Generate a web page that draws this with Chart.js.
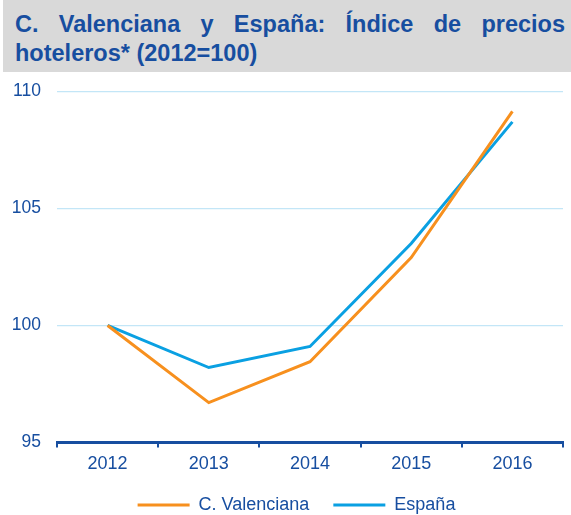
<!DOCTYPE html>
<html>
<head>
<meta charset="utf-8">
<script src="https://cdn.jsdelivr.net/npm/chart.js@4"></script>
<style>
  body { margin: 0; background: #fff; width: 571px; height: 515px; overflow: hidden; position: relative; }
  #title {
    position: absolute; left: 3px; top: 0; width: 568px; height: 72px; z-index: 2;
    background: #d9d9d9; box-sizing: border-box; padding: 10px 6px 0 12px;
    font-family: "Liberation Sans", Arial, sans-serif; font-weight: bold;
    font-size: 23.5px; line-height: 29px; color: #174ea0;
  }
  #title .l1 { text-align: justify; text-align-last: justify; }
  #wrap { position: absolute; left: 0; top: 65px; width: 571px; height: 450px; overflow: hidden; z-index: 1; }
</style>
</head>
<body>
<div id="title"><div class="l1">C. Valenciana y España: Índice de precios</div><div>hoteleros* (2012=100)</div></div>
<div id="wrap"><canvas id="chart" width="571" height="459"></canvas></div>
<script>
let years = ['2012', '2013', '2014', '2015', '2016'];
let valenciana = [100, 96.7, 98.45, 102.9, 109.15];
let espana = [100, 98.2, 99.1, 103.5, 108.7];

let text_color = '#174ea0';
let font = {family: '"Liberation Sans", Arial, sans-serif', size: 18};

// the legend sits a bit right of centre in the original
let shift_legend = {
    id: 'shift_legend',
    afterLayout: (chart) => {
        chart.legend.left += 15;
        chart.legend.right += 15;
    },
};

let ctx = document.getElementById('chart').getContext('2d');
let chart = new Chart(ctx, {
    type: 'line',
    data: {
        labels: years,
        datasets: [{
            label: 'C. Valenciana',
            data: valenciana,
            borderColor: '#f7901e',
            backgroundColor: '#f7901e',
            borderWidth: 3,
            pointRadius: 0,
            lineTension: 0,
        }, {
            label: 'España',
            data: espana,
            borderColor: '#0aa0e2',
            backgroundColor: '#0aa0e2',
            borderWidth: 3,
            pointRadius: 0,
            lineTension: 0,
        }],
    },
    plugins: [shift_legend],
    options: {
        responsive: false,
        animation: false,
        layout: {padding: {top: 12, right: 8, left: 0, bottom: 0}},
        plugins: {
            tooltip: {enabled: false},
            legend: {
                position: 'bottom',
                labels: {
                    color: text_color,
                    font: font,
                    boxWidth: 52,
                    boxHeight: 0,
                    padding: 24,
                },
            },
        },
        scales: {
            x: {
                offset: true,
                afterFit: (s) => { s.height = 29.6; },
                grid: {
                    offset: true,
                    drawOnChartArea: false,
                    color: text_color,
                    lineWidth: 2,
                    tickLength: 5,
                },
                border: {color: text_color, width: 3},
                ticks: {color: text_color, font: font, padding: 6},
            },
            y: {
                min: 95,
                max: 110,
                afterFit: (s) => { s.width = 57; },
                grid: {color: '#c3e6f7', lineWidth: 1.2, drawTicks: false},
                border: {display: false},
                ticks: {stepSize: 5, color: text_color, font: {family: font.family, size: 17.5}, padding: 16},
            },
        },
    },
});
</script>
</body>
</html>
